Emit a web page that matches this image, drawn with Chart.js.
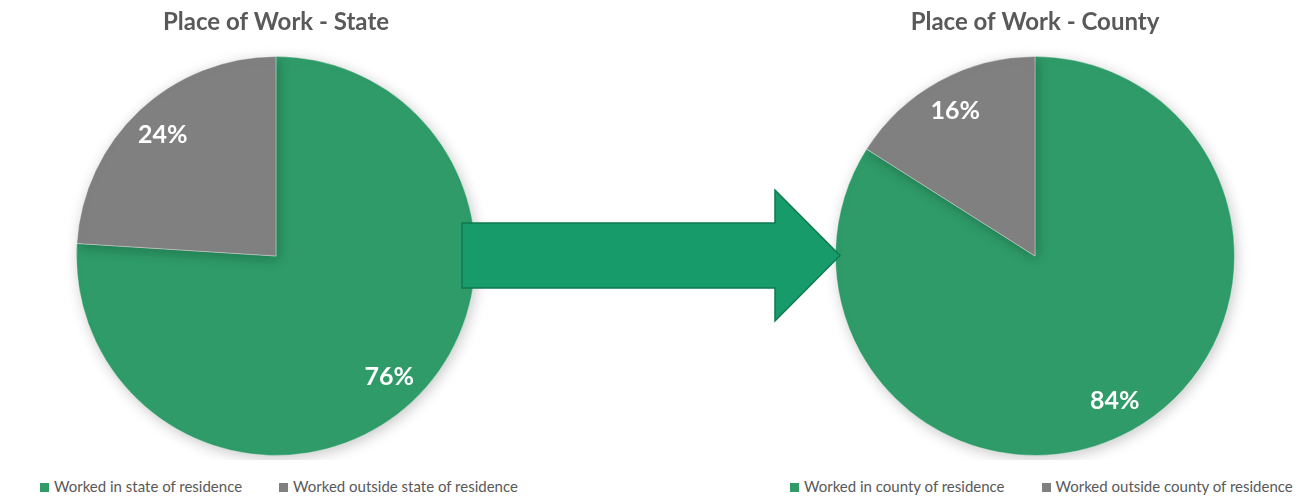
<!DOCTYPE html>
<html>
<head>
<meta charset="utf-8">
<script src="https://cdn.jsdelivr.net/npm/chart.js@4/dist/chart.umd.min.js"></script>
<style>
  html, body { margin: 0; padding: 0; background: #fff; }
  body { width: 1303px; height: 500px; position: relative; overflow: hidden; font-family: Lato, sans-serif; }
  .box { position: absolute; top: 0; height: 460px; }
  #stateBox { left: 0; width: 552px; }
  #countyBox { left: 767px; width: 536px; }
  .legend { position: absolute; top: 477px; font-size: 15px; color: #595959; white-space: nowrap; }
  .legend span.item { display: inline-block; margin-right: 37px; }
  .legend span.sw { display: inline-block; width: 9px; height: 9px; margin-right: 5px; vertical-align: 0px; }
  #arrow { position: absolute; left: 0; top: 0; z-index: 5; }
</style>
</head>
<body>
<div class="box" id="stateBox"><canvas id="stateChart"></canvas></div>
<div class="box" id="countyBox"><canvas id="countyChart"></canvas></div>
<div class="legend" id="stateLegend" style="left:40px"></div>
<div class="legend" id="countyLegend" style="left:790px"></div>
<svg id="arrow" width="1303" height="500">
  <polygon points="462,223 775,223 775,190 840,255.5 775,321 775,288 462,288"
           fill="#179b6b" stroke="#0f7a52" stroke-width="1.5"/>
</svg>
<script>
// dữ liệu
const stateLabels = ['Worked in state of residence', 'Worked outside state of residence'];
const stateValues = [76, 24];
const countyLabels = ['Worked in county of residence', 'Worked outside county of residence'];
const countyValues = [84, 16];
const sliceColors = ['#2e9b68', '#808080'];

// nhãn % bên trong lát bánh
const pctLabels = {
    id: 'pctLabels',
    afterDatasetsDraw(chart) {
        const ctx = chart.ctx;
        const data = chart.data.datasets[0].data;
        const total = data.reduce((a, b) => a + b, 0);
        chart.getDatasetMeta(0).data.forEach((arc, i) => {
            const mid = (arc.startAngle + arc.endAngle) / 2;
            const r = arc.outerRadius * 0.83;
            ctx.save();
            ctx.fillStyle = '#ffffff';
            ctx.font = 'bold 25px Lato';
            ctx.textAlign = 'center';
            ctx.textBaseline = 'middle';
            ctx.fillText(Math.round(data[i] / total * 100) + '%', arc.x + Math.cos(mid) * r, arc.y + Math.sin(mid) * r);
            ctx.restore();
        });
    }
};

// bóng mờ quanh bánh
const pieShadow = {
    id: 'pieShadow',
    beforeDatasetsDraw(chart) {
        chart.ctx.save();
        chart.ctx.shadowColor = 'rgba(0,0,0,0.22)';
        chart.ctx.shadowBlur = 14;
        chart.ctx.shadowOffsetX = 2;
        chart.ctx.shadowOffsetY = 3;
    },
    afterDatasetsDraw(chart) {
        chart.ctx.restore();
    }
};

function makePie(id, title, labels, values) {
    const ctx = document.getElementById(id).getContext('2d');
    return new Chart(ctx, {
        type: 'pie',
        data: {
            labels: labels,
            datasets: [{
                data: values,
                backgroundColor: sliceColors,
                borderColor: 'rgba(255,255,255,0.35)',
                borderWidth: 1
            }]
        },
        options: {
            responsive: true,
            maintainAspectRatio: false,
            animation: false,
            layout: { padding: { bottom: 4 } },
            plugins: {
                legend: { display: false },
                tooltip: { enabled: false },
                title: {
                    display: true,
                    text: title,
                    color: '#595959',
                    font: { family: 'Lato', size: 24, weight: 'bold' },
                    padding: { top: 7.6, bottom: 19.6 }
                }
            }
        },
        plugins: [pieShadow, pctLabels]
    });
}

function makeLegend(elId, labels) {
    const el = document.getElementById(elId);
    labels.forEach((t, i) => {
        const item = document.createElement('span');
        item.className = 'item';
        item.innerHTML = '<span class="sw" style="background:' + sliceColors[i] + '"></span>' + t;
        el.appendChild(item);
    });
}

makePie('stateChart', 'Place of Work - State', stateLabels, stateValues);
makePie('countyChart', 'Place of Work - County', countyLabels, countyValues);
makeLegend('stateLegend', stateLabels);
makeLegend('countyLegend', countyLabels);
</script>
</body>
</html>
